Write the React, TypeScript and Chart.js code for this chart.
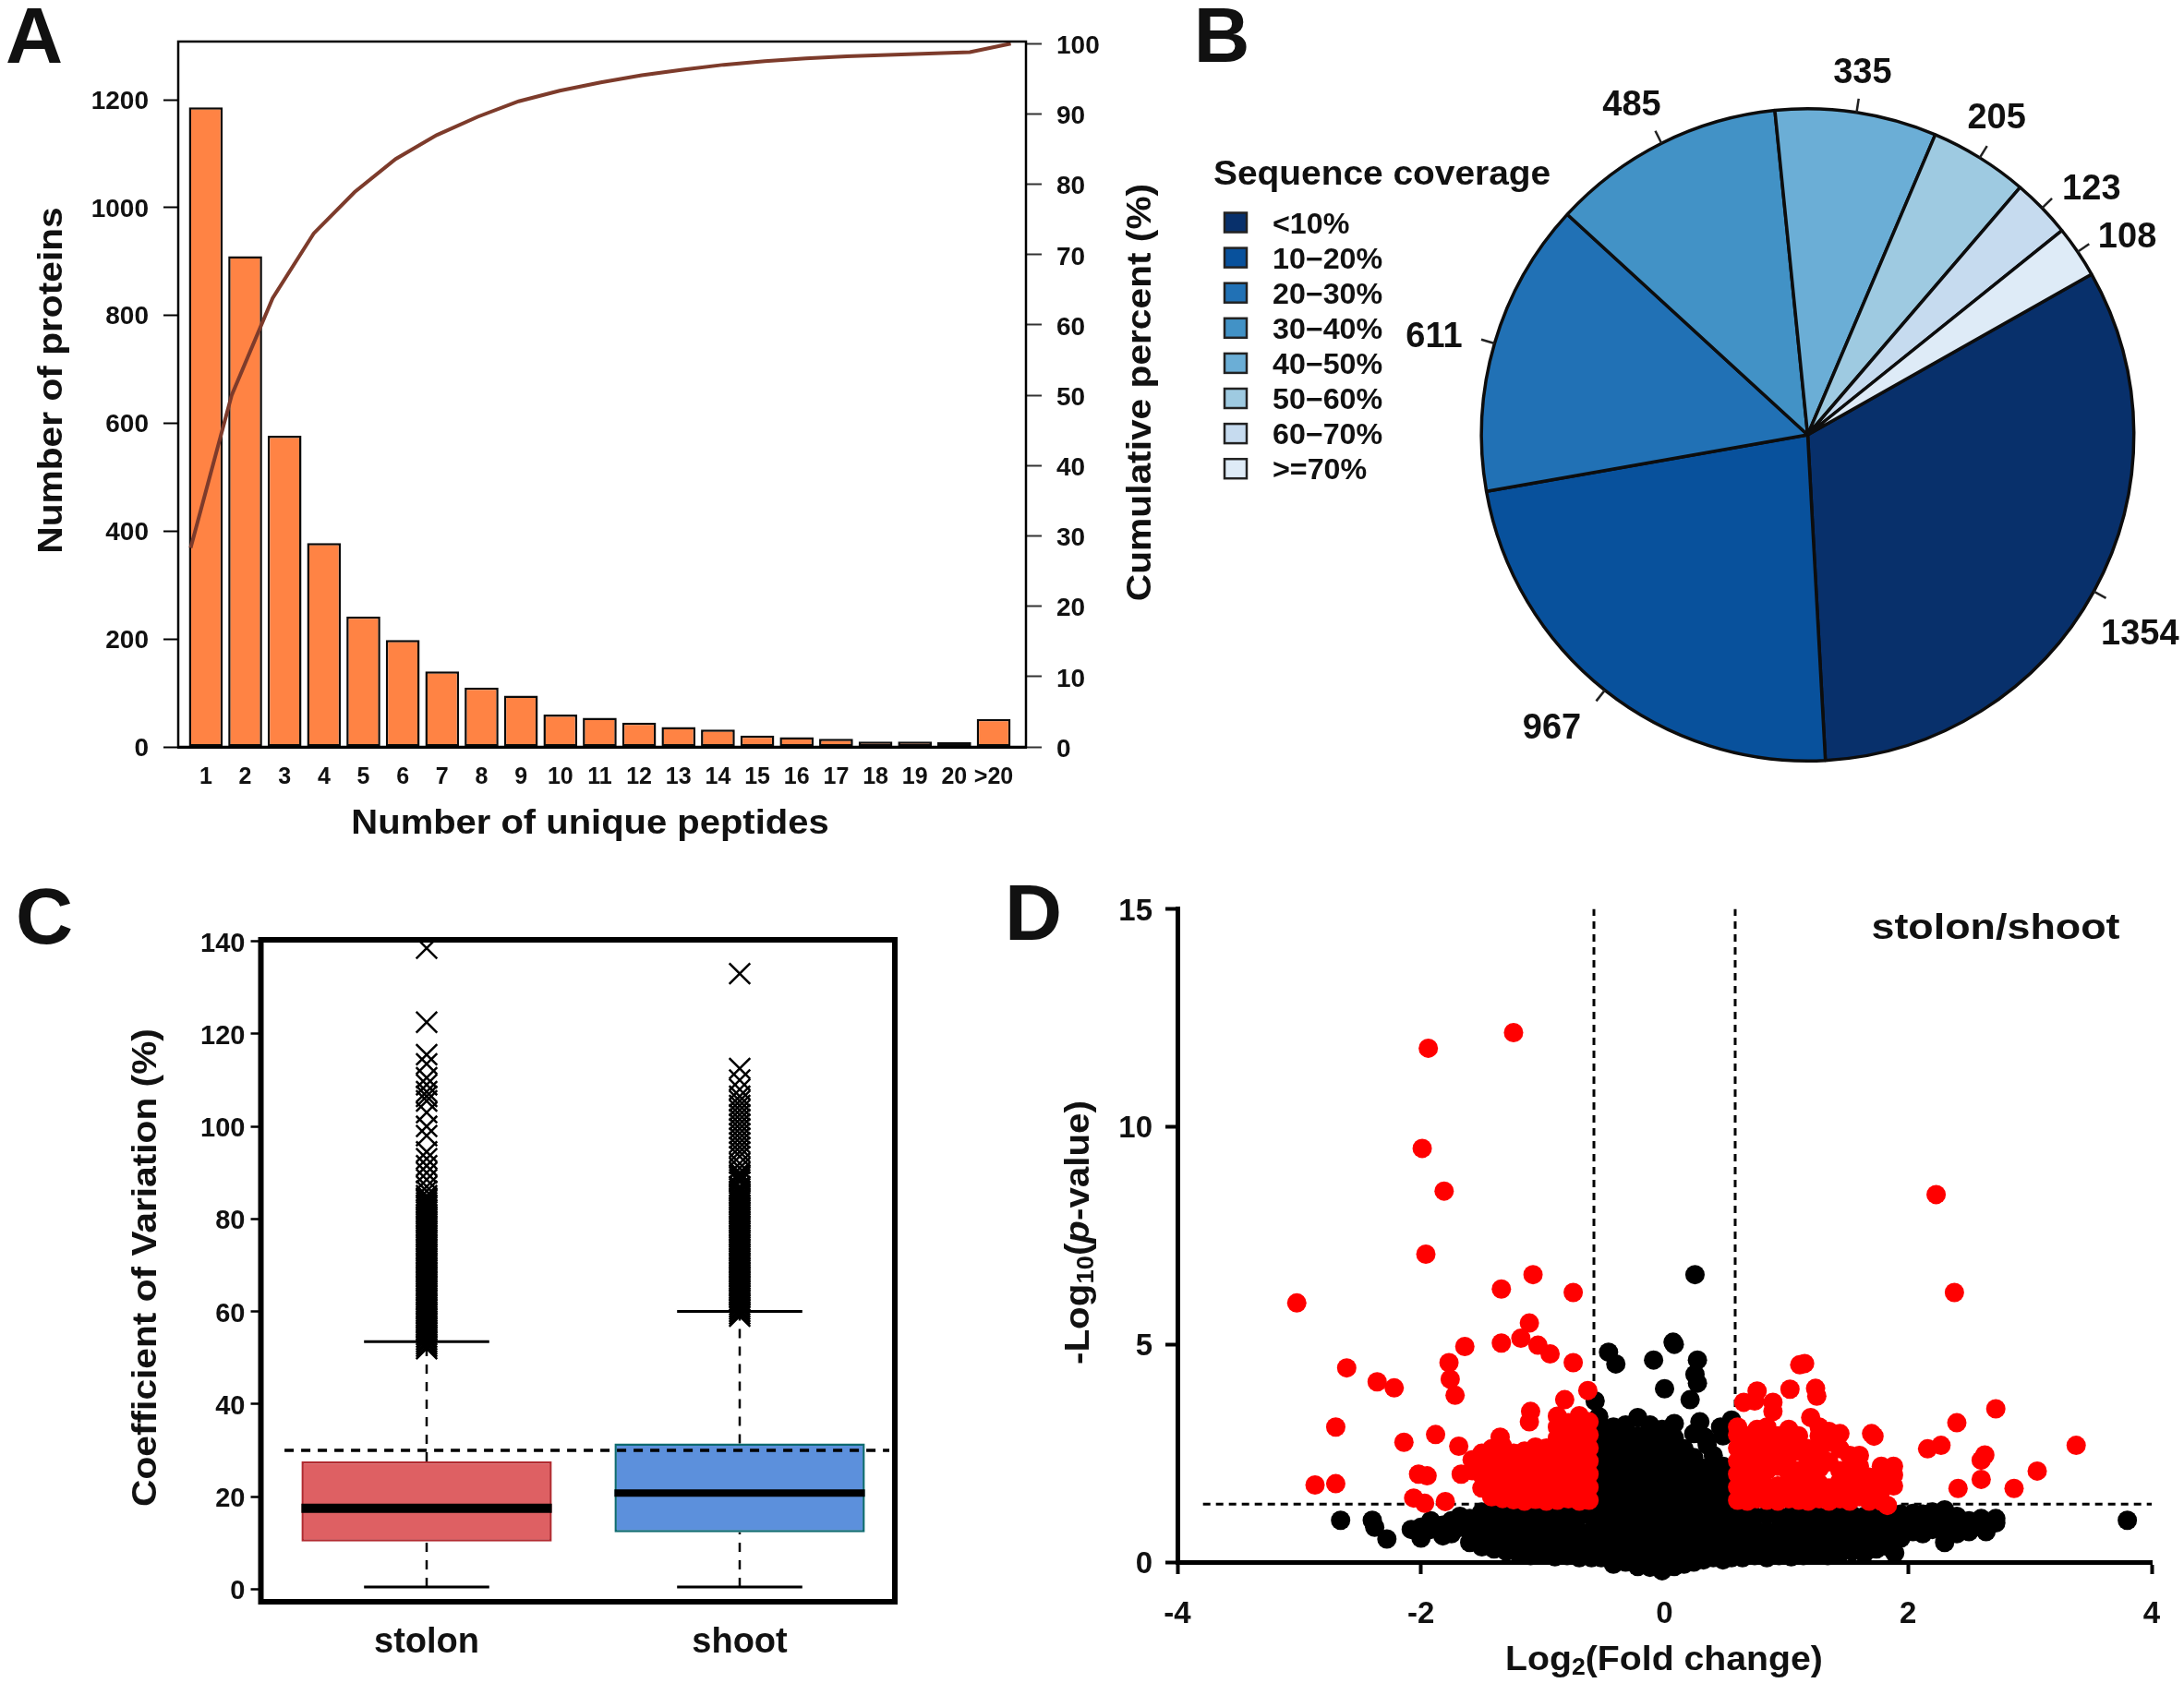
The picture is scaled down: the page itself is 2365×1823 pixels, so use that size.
import { useEffect, useRef } from 'react';
import { Chart, registerables } from 'chart.js';

Chart.register(...registerables);

const FONT = '"Liberation Sans", Arial, sans-serif';
Chart.defaults.font.family = FONT;
Chart.defaults.font.weight = 'bold';
Chart.defaults.color = '#111';

/* ---------- Panel A ---------- */
const peptideLabels = ['1','2','3','4','5','6','7','8','9','10','11','12','13','14','15','16','17','18','19','20','>20'];
const proteinCounts = [1186,910,577,378,242,198,140,110,95,60,54,45,37,32,21,18,15,10,10,9,52];
const cumulativeX = [0.615,1.656,2.697,3.738,4.779,5.82,6.861,7.902,8.943,9.984,11.025,12.066,13.107,14.148,15.189,16.23,17.271,18.312,19.353,20.394,21.435];
const cumulativePercent = [28.3,50,63.8,73,78.9,83.6,87,89.6,91.8,93.3,94.5,95.5,96.3,97,97.5,97.9,98.2,98.4,98.6,98.8,100];

/* ---------- Panel B ---------- */
const coverageLabels = ['<10%','10\u221220%','20\u221230%','30\u221240%','40\u221250%','50\u221260%','60\u221270%','>=70%'];
const coverageCounts = [1354,967,611,485,335,205,123,108];
const coverageColors = ['#08306B','#08519C','#2171B5','#4292C6','#6BAED6','#9ECAE1','#C6DBEF','#DEEBF7'];
const coverageLabelGaps = [66,68,63,54,43,46,55,54];
const coverageLabelShiftX = [-8,-15,-5,-8,0,-6,14,9];
const coverageLabelShiftY = [12,-14,8,5,-3,-6,15,12];

/* ---------- Panel C ---------- */
const tissueLabels = ['stolon','shoot'];
const boxLower = [10.3,12.3];
const boxUpper = [27.6,31.5];
const boxMedian = [17.5,20.8];
const whiskerLow = [0.5,0.5];
const whiskerHigh = [53.5,60];
const cvThreshold = 30;
const stolonOutliers = [138.5,122.5,115.5,113.5,110.5,109,107.5,106.5,105.5,103,100,98,94.5,93,91.5,90,88.5,87,86,85,84.5,84,83.5,83,82.5,82,81.5,81,80.5,80,79.5,79,78.5,78,77.5,77,76.5,76,75.5,75,74.5,74,73.5,73,72.5,72,71.5,71,70.5,70,69.5,69,68.5,68,67.5,67,66.5,66,65.5,65,64.5,64,63.5,63,62.5,62,61.5,61,60.5,60,59.5,59,58.5,58,57.5,57,56.5,56,55.5,55,54.5,54,53.5,53,52.5,52];
const shootOutliers = [133,112.5,110,108,106.5,105.5,104.5,103.5,102.5,101.5,100.5,99.5,98.5,97.5,96.5,95.5,94.5,93.5,92,91,90,89.5,89,88.5,88,87,86.5,86,85.5,85,84.5,84,83.5,83,82.5,82,81.5,81,80.5,80,79.5,79,78.5,78,77.5,77,76.5,76,75.5,75,74.5,74,73.5,73,72.5,72,71.5,71,70.5,70,69.5,69,68.5,68,67.5,67,66.5,66,65.5,65,64.5,64,63.5,63,62.5,62,61.5,61,60.5,60,59.5,59];

/* ---------- Panel D ---------- */
const foldCut = 0.58;
const pCut = 1.33;
const redScattered = [[-1.24,12.16],[-1.94,11.8],[-1.99,9.5],[-1.81,8.52],[2.23,8.44],[-1.96,7.07],[-1.08,6.6],[-1.34,6.27],[-0.75,6.19],[2.38,6.19],[-3.02,5.95],[-1.11,5.49],[-1.18,5.14],[-1.34,5.03],[-1.64,4.95],[-1.04,4.98],[-0.94,4.78],[-1.77,4.58],[-0.75,4.58],[-2.61,4.46],[-1.76,4.2],[-2.36,4.14],[-2.22,4],[-1.72,3.83],[-0.63,3.94],[-0.82,3.73],[-2.7,3.1],[-1.1,3.46],[-1.11,3.22],[-1.88,2.93],[-2.14,2.75],[-1.35,2.87],[-1.69,2.66],[-2.02,2.02],[-1.95,1.98],[-1.67,2.02],[-2.87,1.77],[-2.7,1.8],[-2.06,1.47],[-1.97,1.35],[-1.8,1.39],[2.72,3.52],[2.4,3.2],[2.16,2.6],[2.27,2.68],[3.38,2.68],[2.63,2.46],[2.6,2.34],[3.06,2.09],[2.6,1.9],[2.87,1.69],[2.41,1.69],[1.15,4.56],[1.11,4.53],[0.76,3.93],[1.03,3.97],[1.24,3.99],[1.25,3.81],[0.65,3.67],[0.74,3.7],[0.89,3.67],[0.89,3.46],[1.2,3.32],[1.7,2.95],[1.72,2.89]];
const redColumns: [number, number[]][] = [
  [-0.62,[1.42,1.72,2.02,2.32,2.62,2.92,3.22]],
  [-0.70,[1.4,1.68,1.98,2.28,2.58,2.88,3.18,3.36]],
  [-0.79,[1.45,1.75,2.05,2.35,2.65,2.95,3.2]],
  [-0.88,[1.42,1.7,2,2.3,2.6,2.85,3.1,3.35]],
  [-0.97,[1.4,1.72,2.02,2.32,2.62]],
  [-1.06,[1.44,1.74,2.04,2.34,2.64]],
  [-1.15,[1.4,1.7,2,2.3,2.55]],
  [-1.24,[1.43,1.73,2.03,2.33,2.5]],
  [-1.33,[1.46,1.76,2.06,2.36,2.66]],
  [-1.42,[1.5,1.8,2.1,2.4,2.6]],
  [-1.50,[1.7,2,2.3,2.5]],
  [-1.58,[2.1,2.35]],
  [0.60,[1.42,1.72,2.02,2.32,2.62,2.92,3.1]],
  [0.68,[1.4,1.7,2,2.3,2.6,2.9]],
  [0.76,[1.45,1.75,2.05,2.4,2.7,3.05]],
  [0.84,[1.42,1.72,2.1,2.5,2.9,3.1]],
  [0.93,[1.4,1.75,2.2,2.6,2.9]],
  [1.02,[1.45,1.8,2.05,2.45,2.75,3.05]],
  [1.10,[1.42,1.7,2.1,2.55,2.9]],
  [1.18,[1.4,1.65,2,2.35,2.6]],
  [1.27,[1.45,1.8,2.15,2.55,2.9,3.1]],
  [1.35,[1.4,1.7,2.3,2.75,3]],
  [1.44,[1.45,1.85,2.1,2.6,2.95]],
  [1.52,[1.4,1.75,2.15,2.45]],
  [1.60,[1.5,1.85,2.2,2.45]],
  [1.68,[1.4,1.65,1.95]],
  [1.78,[1.4,1.65,1.9,2.2]],
  [1.88,[1.75,2,2.2]],
  [1.83,[1.3]],
];
const blackScattered = [[0.25,6.6],[0.07,5.05],[0.08,5],[-0.46,4.82],[-0.4,4.55],[-0.09,4.64],[0.27,4.64],[0.25,4.31],[0.27,4.11],[0,3.98],[0.21,3.73],[-0.57,3.7],[-0.54,3.34],[0.55,3.26],[0.46,3.1],[0.29,3.22],[0.33,2.87],[0.35,2.69],[-2.66,0.96],[-2.4,0.96],[-2.38,0.8],[-2.28,0.53],[3.8,0.96],[1.89,0.21]];
const blackColumns: [number, number[]][] = [
  [-2.08,[0.75]],[-2.0,[0.55,0.8]],[-1.92,[0.75,0.95]],[-1.82,[0.6,0.85]],[-1.75,[0.65,0.95]],[-1.68,[0.8,1.05]],
  [-1.6,[0.45,0.7,1]],[-1.5,[0.35,0.65,0.95,1.15]],[-1.4,[0.3,0.6,0.9,1.2]],[-1.3,[0.25,0.55,0.85,1.15]],
  [-1.2,[0.2,0.5,0.8,1.1]],[-1.1,[0.15,0.45,0.75,1.05]],[-1.0,[0.2,0.5,0.8,1.1]],[-0.9,[0.12,0.42,0.72,1.02]],
  [-0.8,[0.15,0.45,0.75,1.08]],[-0.7,[0.1,0.4,0.7,1.05]],[-0.6,[0.1,0.4,0.7,1.05]],
  [-0.52,[0.1,0.4,0.7,1,1.3,1.6,1.9,2.2,2.5,2.8,3.05]],
  [-0.42,[-0.05,0.25,0.55,0.85,1.15,1.45,1.75,2.05,2.35,2.65,2.95,3.1]],
  [-0.32,[0,0.3,0.6,0.9,1.2,1.5,1.8,2.1,2.4,2.7,3,3.15]],
  [-0.22,[-0.1,0.2,0.5,0.8,1.1,1.4,1.7,2,2.3,2.6,2.9,3.32]],
  [-0.12,[-0.12,0.2,0.5,0.8,1.1,1.4,1.7,2,2.3,2.6,2.9,3.15]],
  [-0.02,[-0.2,0.1,0.4,0.7,1,1.3,1.6,1.9,2.2,2.5,2.8,3.05]],
  [0.08,[-0.1,0.2,0.5,0.8,1.1,1.4,1.7,2,2.3,2.6,2.85,3.18]],
  [0.16,[-0.05,0.25,0.55,0.85,1.15,1.45,1.75,2.05,2.35,2.6]],
  [0.24,[0,0.3,0.6,0.9,1.2,1.5,1.8,2.1,2.4,2.95]],
  [0.32,[0.05,0.35,0.65,0.95,1.25,1.55,1.85,2.15]],
  [0.40,[0.1,0.4,0.7,1,1.3,1.6,1.85,2.1,2.45]],
  [0.48,[0.05,0.35,0.65,0.95,1.25,1.55,1.85,2.2,2.9]],
  [0.55,[0.1,0.4,0.7,1,1.3,1.6,2.1]],
  [0.64,[0.1,0.4,0.7,1.05]],[0.74,[0.15,0.45,0.75,1.05]],[0.84,[0.1,0.4,0.7,1.08]],[0.94,[0.15,0.45,0.75,1.05]],
  [1.04,[0.12,0.42,0.72,1.08]],[1.14,[0.15,0.45,0.75,1.05]],[1.24,[0.18,0.48,0.78,1.08]],[1.34,[0.15,0.45,0.75,1.05]],
  [1.44,[0.2,0.5,0.8,1.1]],[1.54,[0.25,0.55,0.85,1.08]],[1.64,[0.2,0.5,0.8,1.05]],[1.74,[0.3,0.6,0.9,1.1]],
  [1.84,[0.35,0.65,0.95]],[1.94,[0.55,0.85,1.1]],[2.04,[0.7,0.95,1.12]],[2.12,[0.65,0.9,1.1]],
  [2.2,[0.75,1,1.15]],[2.3,[0.45,0.75,1.05,1.2]],[2.4,[0.65,0.9,1.05]],[2.5,[0.7,0.95]],[2.6,[0.8,1]],[2.64,[0.7]],[2.72,[0.9,1]],
];

/* ---------- text helper ---------- */
type Seg = { t: string; sub?: boolean; italic?: boolean };
type Lab = { segs: Seg[]; x: number; y: number; size: number; rot?: number; sx?: number; align?: 'left' | 'center' };

function drawLab(ctx: CanvasRenderingContext2D, l: Lab) {
  ctx.save();
  ctx.translate(l.x, l.y);
  ctx.rotate(((l.rot || 0) * Math.PI) / 180);
  ctx.scale(l.sx || 1, 1);
  ctx.textBaseline = 'middle';
  ctx.textAlign = 'left';
  ctx.fillStyle = '#111';
  const fontOf = (s: Seg) => `${s.italic ? 'italic ' : ''}bold ${s.sub ? l.size * 0.68 : l.size}px ${FONT}`;
  let total = 0;
  for (const s of l.segs) { ctx.font = fontOf(s); total += ctx.measureText(s.t).width; }
  let cx = l.align === 'left' ? 0 : -total / 2;
  for (const s of l.segs) {
    ctx.font = fontOf(s);
    ctx.fillText(s.t, cx, 3 + (s.sub ? l.size * 0.22 : 0));
    cx += ctx.measureText(s.t).width;
  }
  ctx.restore();
}
const plain = (t: string) => [{ t }];
const labelsPlugin = (labs: Lab[]) => ({
  id: 'panelLabels',
  afterDraw(chart: any) { labs.forEach((l) => drawLab(chart.ctx, l)); },
});
const framePlugin = (width: number) => ({
  id: 'frame',
  afterDatasetsDraw(chart: any) {
    const { ctx, chartArea: a } = chart;
    ctx.save();
    ctx.strokeStyle = '#000';
    ctx.lineWidth = width;
    ctx.strokeRect(a.left, a.top, a.right - a.left, a.bottom - a.top);
    ctx.restore();
  },
});
const fitW = (w: number) => (s: any) => { s.width = w; };
const fitH = (h: number) => (s: any) => { s.height = h; };
const flat = (cols: [number, number[]][]) => cols.flatMap(([x, ys]) => ys.map((y) => ({ x, y })));
const pts = (a: number[][]) => a.map(([x, y]) => ({ x, y }));
const base: any = { responsive: false, animation: false, devicePixelRatio: 1, events: [] };
const noPlug = { legend: { display: false }, tooltip: { enabled: false } };

function buildA(c: HTMLCanvasElement) {
  return new Chart(c, {
    type: 'bar',
    data: {
      datasets: [
        { type: 'line', order: 1, yAxisID: 'y2', data: cumulativePercent.map((y, i) => ({ x: cumulativeX[i], y })), borderColor: '#7d3b2b', borderWidth: 4, pointRadius: 0, tension: 0, clip: false } as any,
        { type: 'bar', order: 2, yAxisID: 'y', data: proteinCounts.map((y, i) => ({ x: i + 1, y })), backgroundColor: '#FF8344', borderColor: '#0a0a0a', borderWidth: 2.5, borderSkipped: false, barPercentage: 0.86, categoryPercentage: 1 } as any,
      ],
    },
    options: {
      ...base,
      layout: { padding: { top: 45 } },
      plugins: noPlug,
      scales: {
        x: { type: 'linear', offset: false, min: 0.3, max: 21.82, afterFit: fitH(111), border: { width: 3, color: '#000' }, grid: { display: false, offset: false, drawTicks: false }, ticks: { stepSize: 1, autoSkip: false, maxRotation: 0, includeBounds: false, padding: 18, font: { size: 25, weight: 'bold' }, callback: (v: any) => peptideLabels[v - 1] } },
        y: { min: 0, max: 1308, afterFit: fitW(193), border: { width: 2, color: '#000' }, grid: { drawOnChartArea: false, tickLength: 16, tickWidth: 2, tickColor: '#000' }, ticks: { stepSize: 200, includeBounds: false, padding: 16, labelOffset: 2, font: { size: 28, weight: 'bold' }, callback: (v: any) => String(v) } },
        y2: { position: 'right', min: 0, max: 100.3, afterFit: fitW(179), border: { width: 2, color: '#000' }, grid: { drawOnChartArea: false, tickLength: 17, tickWidth: 2, tickColor: '#333' }, ticks: { stepSize: 10, includeBounds: false, padding: 16, labelOffset: 3, font: { size: 28, weight: 'bold' } } },
      },
    } as any,
    plugins: [framePlugin(2.5), labelsPlugin([
      { segs: plain('A'), x: 37, y: 41, size: 86 },
      { segs: plain('Number of proteins'), x: 54, y: 412, size: 37, rot: -90, sx: 1.1 },
      { segs: plain('Number of unique peptides'), x: 639, y: 890, size: 37, sx: 1.08 },
      { segs: plain('Cumulative percent (%)'), x: 1233, y: 425, size: 37, rot: -90, sx: 1.1 },
    ])] as any,
  });
}

function buildB(c: HTMLCanvasElement) {
  const pieExtras = {
    id: 'pieExtras',
    afterDatasetsDraw(chart: any) {
      const ctx = chart.ctx;
      const arcs = chart.getDatasetMeta(0).data;
      arcs.forEach((arc: any, i: number) => {
        const mid = (arc.startAngle + arc.endAngle) / 2;
        const r = arc.outerRadius;
        ctx.save();
        ctx.strokeStyle = '#222';
        ctx.lineWidth = 2.5;
        ctx.beginPath();
        ctx.moveTo(arc.x + Math.cos(mid) * r, arc.y + Math.sin(mid) * r);
        ctx.lineTo(arc.x + Math.cos(mid) * (r + 15), arc.y + Math.sin(mid) * (r + 15));
        ctx.stroke();
        ctx.restore();
        const rr = r + coverageLabelGaps[i];
        drawLab(ctx, { segs: plain(String(coverageCounts[i])), x: arc.x + Math.cos(mid) * rr + coverageLabelShiftX[i], y: arc.y + Math.sin(mid) * rr + coverageLabelShiftY[i], size: 38 });
      });
      drawLab(ctx, { segs: plain('Sequence coverage'), x: 64, y: 187, size: 36, align: 'left', sx: 1.08 });
      coverageLabels.forEach((t, i) => {
        const y = 241 + i * 38.1;
        ctx.fillStyle = coverageColors[i];
        ctx.strokeStyle = '#222';
        ctx.lineWidth = 2.5;
        ctx.fillRect(76, y - 10.5, 24, 21);
        ctx.strokeRect(76, y - 10.5, 24, 21);
        drawLab(ctx, { segs: plain(t), x: 128, y, size: 31, align: 'left', sx: 1.04 });
      });
      drawLab(ctx, { segs: plain('B'), x: 73, y: 41, size: 84 });
    },
  };
  return new Chart(c, {
    type: 'pie',
    data: { labels: coverageLabels, datasets: [{ data: coverageCounts, backgroundColor: coverageColors, borderColor: '#0d0d0d', borderWidth: 3.5 }] },
    options: { ...base, rotation: 60.5, layout: { padding: { left: 352, right: 52, top: 116, bottom: 124 } }, plugins: noPlug } as any,
    plugins: [pieExtras] as any,
  });
}

function buildC(c: HTMLCanvasElement) {
  const line = (data: any[], extra: any) => ({ type: 'line', data, pointRadius: 0, borderColor: '#000', tension: 0, ...extra });
  const datasets: any[] = [
    line(pts([[0.546, cvThreshold], [2.478, cvThreshold]]), { order: 1, borderWidth: 3.5, borderDash: [10, 8] }),
    line(pts([[0.6, boxMedian[0]], [1.4, boxMedian[0]]]), { order: 2, borderWidth: 10 }),
    line(pts([[1.6, boxMedian[1]], [2.4, boxMedian[1]]]), { order: 2, borderWidth: 8 }),
    { type: 'bar', order: 3, data: tissueLabels.map((_, i) => ({ x: i + 1, y: [boxLower[i], boxUpper[i]] })), backgroundColor: ['#DE6063', '#5C90DC'], borderColor: ['#B22A30', '#0E6B70'], borderWidth: 2.5, borderSkipped: false, barPercentage: 0.8, categoryPercentage: 1 },
  ];
  tissueLabels.forEach((_, i) => {
    const x = i + 1;
    datasets.push(line(pts([[x, boxUpper[i]], [x, whiskerHigh[i]]]), { order: 4, borderWidth: 2.5, borderDash: [10, 9] }));
    datasets.push(line(pts([[x, whiskerLow[i]], [x, boxLower[i]]]), { order: 4, borderWidth: 2.5, borderDash: [10, 9] }));
    datasets.push(line(pts([[x - 0.2, whiskerHigh[i]], [x + 0.2, whiskerHigh[i]]]), { order: 4, borderWidth: 3 }));
    datasets.push(line(pts([[x - 0.2, whiskerLow[i]], [x + 0.2, whiskerLow[i]]]), { order: 4, borderWidth: 3 }));
  });
  const outl = (x: number, ys: number[]) => ({ type: 'scatter', order: 4, data: ys.map((y) => ({ x, y })), pointStyle: 'crossRot', pointRadius: 16, pointBorderWidth: 2.5, pointBorderColor: '#000', backgroundColor: 'transparent', showLine: false });
  datasets.push(outl(1, stolonOutliers), outl(2, shootOutliers));
  return new Chart(c, {
    type: 'bar',
    data: { datasets },
    options: {
      ...base,
      layout: { padding: { top: 68, right: 71 } },
      plugins: noPlug,
      scales: {
        x: { type: 'linear', offset: false, min: 0.4705, max: 2.4956, afterFit: fitH(88), border: { display: false }, grid: { display: false, offset: false, drawTicks: false }, ticks: { stepSize: 1, includeBounds: false, autoSkip: false, padding: 22, font: { size: 38, weight: 'bold' }, callback: (v: any) => tissueLabels[v - 1] } },
        y: { min: -2.7, max: 140.3, afterFit: fitW(282.5), border: { display: false }, grid: { drawOnChartArea: false, tickLength: 11, tickWidth: 2.5, tickColor: '#000' }, ticks: { stepSize: 20, includeBounds: false, padding: 6, labelOffset: 3, font: { size: 29, weight: 'bold' } } },
      },
    } as any,
    plugins: [framePlugin(6), labelsPlugin([
      { segs: plain('C'), x: 48, y: 45, size: 86 },
      { segs: plain('Coefficient of Variation (%)'), x: 156, y: 423, size: 37, rot: -90, sx: 1.1 },
    ])] as any,
  });
}

function buildD(c: HTMLCanvasElement) {
  const dash = (a: number[][]) => ({ type: 'line', order: 3, data: pts(a), borderColor: '#000', borderWidth: 3, borderDash: [8, 6], pointRadius: 0 });
  return new Chart(c, {
    type: 'scatter',
    data: {
      datasets: [
        { order: 1, data: [...pts(redScattered), ...flat(redColumns)], backgroundColor: '#F00', borderColor: '#F00', pointRadius: 10.5, pointBorderWidth: 0, clip: false },
        { order: 2, data: [...pts(blackScattered), ...flat(blackColumns)], backgroundColor: '#000', borderColor: '#000', pointRadius: 10.5, pointBorderWidth: 0, clip: false },
        dash([[-foldCut, 0], [-foldCut, 15]]),
        dash([[foldCut, 0], [foldCut, 15]]),
        dash([[-3.79, pCut], [4, pCut]]),
      ] as any,
    },
    options: {
      ...base,
      layout: { padding: { top: 34.5, right: 35 } },
      plugins: noPlug,
      scales: {
        x: { min: -4, max: 4, afterFit: fitH(131), border: { width: 5, color: '#000' }, grid: { drawOnChartArea: false, tickLength: 13, tickWidth: 4, tickColor: '#000' }, ticks: { stepSize: 2, padding: 24, font: { size: 33, weight: 'bold' } } },
        y: { min: 0, max: 15, afterFit: fitW(195), border: { width: 5, color: '#000' }, grid: { drawOnChartArea: false, tickLength: 13, tickWidth: 4, tickColor: '#000' }, ticks: { stepSize: 5, padding: 14, labelOffset: 3, font: { size: 33, weight: 'bold' } } },
      },
    } as any,
    plugins: [labelsPlugin([
      { segs: plain('D'), x: 39, y: 41, size: 86 },
      { segs: plain('stolon/shoot'), x: 1081, y: 53, size: 39, sx: 1.15 },
      { segs: [{ t: 'Log' }, { t: '2', sub: true }, { t: '(Fold change)' }], x: 722, y: 846, size: 37, sx: 1.06 },
      { segs: [{ t: '-Log' }, { t: '10', sub: true }, { t: '(' }, { t: 'p', italic: true }, { t: '-value)' }], x: 86, y: 385, size: 37, rot: -90, sx: 1.09 },
    ])] as any,
  });
}

const panels = [
  { left: 0, top: 0, width: 1290, height: 920, build: buildA },
  { left: 1250, top: 0, width: 1115, height: 950, build: buildB },
  { left: 0, top: 950, width: 1040, height: 873, build: buildC },
  { left: 1080, top: 950, width: 1285, height: 873, build: buildD },
];

export default function App() {
  const refs = useRef<(HTMLCanvasElement | null)[]>([]);
  useEffect(() => {
    document.body.style.margin = '0';
    document.body.style.overflow = 'hidden';
    const charts = panels.map((p, i) => p.build(refs.current[i] as HTMLCanvasElement));
    return () => charts.forEach((c) => c.destroy());
  }, []);
  return (
    <div style={{ position: 'absolute', left: 0, top: 0, width: 2365, height: 1823, background: '#fff', overflow: 'hidden' }}>
      {panels.map((p, i) => (
        <canvas key={i} ref={(el) => { refs.current[i] = el; }} width={p.width} height={p.height} style={{ position: 'absolute', left: p.left, top: p.top }} />
      ))}
    </div>
  );
}
